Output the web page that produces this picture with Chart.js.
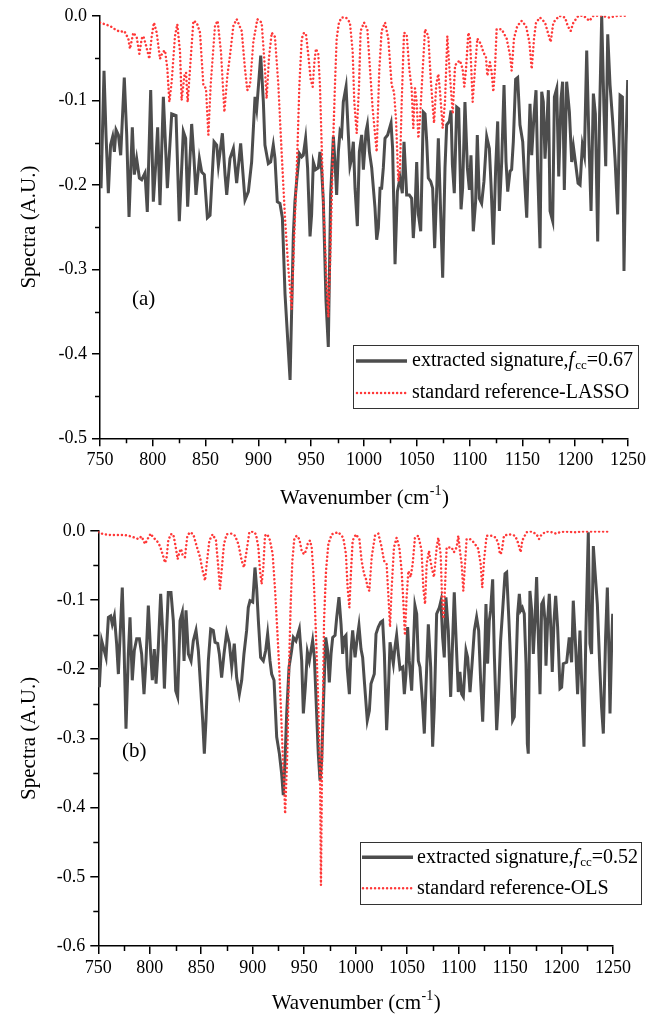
<!DOCTYPE html>
<html>
<head>
<meta charset="utf-8">
<script src="https://cdn.jsdelivr.net/npm/chart.js@4.4.1/dist/chart.umd.min.js"></script>
<style>
html,body{margin:0;padding:0;background:#fff;}
body{width:667px;height:1019px;position:relative;overflow:hidden;}
canvas{position:absolute;left:0;}
#chartA{top:0;}
#chartB{top:515px;}
</style>
</head>
<body>
<canvas id="chartA" width="667" height="515"></canvas>
<canvas id="chartB" width="667" height="504"></canvas>
<script>
// ---------------- DATA ----------------
const xTickLabels = [750, 800, 850, 900, 950, 1000, 1050, 1100, 1150, 1200, 1250];
const yTickLabelsA = [0.0, -0.1, -0.2, -0.3, -0.4, -0.5];
const yTickLabelsB = [0.0, -0.1, -0.2, -0.3, -0.4, -0.5, -0.6];

// Panel (a): extracted signature
const wnSignatureA = [
750,751,753.8,755.7,757.9,760,762,763.6,765.2,767.4,
769.6,773,775.3,777.5,780.6,782.5,784.7,787.3,789.5,792.6,
794.8,798,800.5,802.7,804.6,806.8,810,813.8,817.9,822,
825.1,828.9,831.1,833,836.8,839,840.9,844.1,846.3,848.8,
851.7,854.2,858,860.5,862.1,865.9,868.4,870,873.1,876.3,
879.4,883.2,887.3,890.5,893.6,896.8,898.4,902.2,904.7,906.2,
909.4,911.6,914.1,915.7,917.9,920.4,922.7,925.2,930,933.1,
934.6,936.2,938.8,941,942.5,944.7,946.6,948.9,950.4,952,
954.2,956.7,958.3,959.9,961.5,964,966.2,968.4,971,972.5,
974.1,975.7,977.3,978.8,980.4,983,985.2,986.7,988.3,989.9,
991.5,993.7,995.6,997.8,999.4,1001.9,1003.2,1005.1,1007.3,1010.4,
1012,1013.6,1015.2,1016.7,1018.3,1019.9,1022.4,1025.6,1027.1,1029.4,
1031.6,1034.1,1036.3,1037.9,1040.4,1042.9,1045.1,1046.7,1048.3,1049.9,
1051.5,1053.7,1056.2,1057.8,1059.4,1060.9,1063.1,1065,1066.9,1068.8,
1070.4,1074.5,1076.7,1078.3,1080.8,1082.4,1083.7,1085.5,1087.8,1089.7,
1091.9,1093.4,1095.6,1097.9,1099.8,1101.3,1103.5,1105.7,1107.3,1109.2,
1111.4,1113.6,1116.2,1118.7,1120.3,1122.5,1124.7,1126.6,1128.2,1130.4,
1132.6,1134.5,1136.1,1138.3,1139.8,1141.4,1143.6,1145.5,1147.7,1150.3,
1152.5,1154.1,1155.6,1157.2,1158.8,1161,1162.9,1164.5,1166.7,1168.3,
1169.8,1171.4,1173,1174.6,1176.2,1178.7,1180.3,1182.5,1184.4,1186.6,
1188.1,1189.7,1191.9,1194.5,1196.7,1198.3,1200.5,1202.7,1204.6,1206.8,
1208.7,1210.9,1213.1,1215,1217.2,1219.1,1221.3,1222.9,1225.1,1227.3,
1228.9,1230.8,1233,1235.5,1237.7,1240.2,1242.5,1244.7,1246.2,1248.1,1249.7
];
const specSignatureA = [
-0.165,-0.204,-0.065,-0.141,-0.210,-0.153,-0.143,-0.161,-0.135,-0.141,
-0.165,-0.073,-0.141,-0.238,-0.132,-0.188,-0.169,-0.192,-0.194,-0.186,
-0.232,-0.088,-0.220,-0.177,-0.132,-0.224,-0.096,-0.204,-0.116,-0.118,
-0.243,-0.137,-0.145,-0.226,-0.128,-0.169,-0.212,-0.169,-0.185,-0.188,
-0.239,-0.236,-0.149,-0.153,-0.177,-0.139,-0.188,-0.212,-0.169,-0.157,
-0.198,-0.151,-0.218,-0.208,-0.173,-0.096,-0.110,-0.047,-0.102,-0.153,
-0.175,-0.173,-0.153,-0.169,-0.220,-0.222,-0.239,-0.329,-0.431,-0.259,
-0.220,-0.196,-0.163,-0.167,-0.165,-0.145,-0.180,-0.261,-0.235,-0.173,
-0.182,-0.180,-0.161,-0.182,-0.220,-0.337,-0.392,-0.212,-0.143,-0.173,
-0.212,-0.161,-0.137,-0.141,-0.102,-0.084,-0.141,-0.178,-0.169,-0.149,
-0.204,-0.249,-0.161,-0.141,-0.182,-0.137,-0.129,-0.161,-0.180,-0.227,
-0.265,-0.251,-0.204,-0.204,-0.180,-0.145,-0.141,-0.127,-0.157,-0.294,
-0.208,-0.192,-0.210,-0.149,-0.212,-0.212,-0.216,-0.263,-0.231,-0.173,
-0.235,-0.255,-0.114,-0.116,-0.149,-0.192,-0.196,-0.204,-0.275,-0.208,
-0.145,-0.310,-0.180,-0.129,-0.125,-0.112,-0.176,-0.210,-0.108,-0.110,
-0.229,-0.204,-0.102,-0.180,-0.206,-0.165,-0.255,-0.220,-0.141,-0.216,
-0.222,-0.196,-0.143,-0.157,-0.200,-0.271,-0.180,-0.125,-0.231,-0.173,
-0.082,-0.173,-0.208,-0.184,-0.182,-0.149,-0.075,-0.073,-0.129,-0.149,
-0.204,-0.239,-0.169,-0.104,-0.165,-0.118,-0.088,-0.184,-0.275,-0.090,
-0.102,-0.169,-0.133,-0.088,-0.231,-0.243,-0.096,-0.086,-0.190,-0.098,
-0.078,-0.206,-0.078,-0.114,-0.173,-0.155,-0.176,-0.198,-0.200,-0.153,
-0.165,-0.041,-0.153,-0.231,-0.092,-0.116,-0.267,-0.129,0.000,-0.114,
-0.178,-0.022,-0.082,-0.125,-0.169,-0.235,-0.094,-0.096,-0.302,-0.153,-0.076
];

// Panel (a): standard reference - LASSO
const wnReferenceA = [
750,754.7,759.5,764.2,769,773,776.8,778.4,781.6,784.7,
787.3,789.5,791,793.6,796.7,799,801.1,803.7,806.8,809.4,
811.6,813.8,815.7,817.9,821,823.2,825.8,827.3,829.9,831.5,
833,835.2,838.4,841.6,844.7,847.9,850.4,852.6,854.8,858.9,
861.4,864.6,867.8,870.6,873.1,876.3,879.4,884.2,887.3,889.5,
892.1,895.2,899,903.1,906.2,907.8,910,912.6,915.7,918.9,
922,925.2,928.3,931.5,934.6,936.9,938.8,941,943.2,945.1,
947.3,949.5,951.4,953,954.5,956.7,958.3,959.9,961.5,964,
966.2,967.8,969.4,971,972.5,974.1,976.3,978.8,983,986.7,
989.3,990.8,993.1,995.3,996.8,1000,1003.2,1005.7,1008.2,1012,
1014.5,1016.7,1019.9,1023,1026.2,1028.4,1030.3,1032.5,1034.1,1035.7,
1037.9,1040.4,1042.9,1045.1,1046.7,1048.3,1049.9,1051.5,1053,1055.6,
1057.8,1060.9,1063.5,1066.3,1068.5,1070.4,1072,1074.5,1076.7,1078.9,
1081.4,1084,1086.2,1088.4,1090.9,1093.4,1095,1096.6,1098.8,1100.4,
1102.9,1105.1,1107.3,1110.5,1113,1115.5,1116.8,1119.3,1120.9,1122.5,
1124,1125.6,1130.4,1135.1,1138.3,1139.8,1142,1145.2,1149.3,1153.4,
1156.6,1158.8,1161,1162.9,1166.7,1171.4,1174.6,1176.8,1179.3,1185,
1190.4,1192.9,1195.7,1198.3,1203,1208,1213.4,1217.2,1225,1232,1240,1249
];
const specReferenceA = [
-0.008,-0.010,-0.012,-0.016,-0.019,-0.018,-0.027,-0.039,-0.020,-0.025,
-0.045,-0.027,-0.024,-0.035,-0.051,-0.024,-0.008,-0.020,-0.051,-0.043,
-0.041,-0.063,-0.102,-0.078,-0.024,-0.010,-0.043,-0.100,-0.071,-0.067,
-0.102,-0.063,-0.006,-0.008,-0.020,-0.082,-0.086,-0.141,-0.082,-0.012,
-0.006,-0.043,-0.114,-0.071,-0.047,-0.012,-0.004,-0.018,-0.063,-0.088,
-0.082,-0.031,-0.004,-0.008,-0.063,-0.098,-0.050,-0.020,-0.025,-0.082,
-0.161,-0.239,-0.298,-0.347,-0.239,-0.161,-0.082,-0.027,-0.020,-0.022,
-0.047,-0.075,-0.084,-0.055,-0.039,-0.045,-0.082,-0.153,-0.220,-0.298,
-0.357,-0.298,-0.220,-0.141,-0.082,-0.027,-0.008,-0.002,-0.002,-0.008,
-0.043,-0.102,-0.139,-0.082,-0.018,-0.008,-0.016,-0.063,-0.110,-0.161,
-0.063,-0.018,-0.008,-0.027,-0.082,-0.090,-0.122,-0.196,-0.180,-0.102,
-0.020,-0.022,-0.063,-0.086,-0.133,-0.086,-0.102,-0.145,-0.122,-0.063,
-0.016,-0.024,-0.080,-0.127,-0.080,-0.069,-0.090,-0.133,-0.102,-0.024,
-0.071,-0.116,-0.059,-0.055,-0.053,-0.063,-0.084,-0.063,-0.020,-0.027,
-0.102,-0.063,-0.027,-0.033,-0.043,-0.049,-0.071,-0.055,-0.067,-0.090,
-0.063,-0.016,-0.016,-0.027,-0.047,-0.065,-0.027,-0.012,-0.006,-0.012,
-0.031,-0.063,-0.027,-0.008,-0.002,-0.008,-0.022,-0.031,-0.008,0.000,
-0.002,-0.012,-0.018,-0.008,0.000,0.000,-0.006,0.000,0.000,-0.002,0.000,0.000
];

// Panel (b): extracted signature
const wnSignatureB = [
750,751,753.3,757.5,759.8,762,763.6,765.6,767.8,769.5,
773.3,775,776.9,779.2,780.8,783,785,787.3,789.9,792.1,
794.4,796.3,798.6,800.9,802.5,804.4,806.1,808.3,810.6,812.5,
814.2,816.4,818,820.6,822.9,825.2,827.1,829.4,831.6,833.3,
835.2,837.5,840.1,842.3,844.9,847.2,849.4,851.4,853,854.6,
856.9,859.2,861.7,863.4,866,867.6,869.8,872.1,874.7,877.3,
879.6,882.1,884.4,887,889.3,891.5,894.1,895.7,897.4,900,
902.2,903.8,905.5,907.7,910.3,912.6,914.5,916.8,918.4,920.7,
923.3,925.9,928.1,929.7,931.4,933,935.3,937.8,939.5,942,
945.3,947.6,949.2,951.1,953.1,955,958.2,959.9,962.1,963.7,
965.4,967,968.6,970.9,972.8,974.4,976.1,977.7,980,981.6,
983.8,985.8,987.4,989,990.6,991.9,993.9,995.5,997.1,999.4,
1001.6,1003.2,1005.2,1006.8,1008.4,1010.1,1011.3,1013.3,1014.9,1016.5,
1018.1,1019.8,1022,1024.3,1026.2,1027.9,1030.1,1031.7,1033.4,1036.6,
1038.2,1039.8,1041.5,1043.1,1045.7,1047.3,1048.9,1050.5,1052.1,1054.4,
1056,1057.6,1059.3,1060.9,1062.5,1064.8,1066.7,1068.3,1070.6,1072.9,
1074.8,1076.4,1078.7,1081.3,1082.9,1084.5,1086.1,1087.7,1090,1092.3,
1094.2,1095.8,1097.5,1099.7,1101.3,1103,1104.6,1107.2,1108.8,1111.1,
1113.3,1115.3,1117.5,1119.5,1121.4,1123.4,1125,1126.6,1128.2,1129.8,
1131.1,1133.1,1134.7,1137,1138.6,1140.8,1142.8,1145.1,1146.7,1148.9,
1150.9,1152.5,1154.1,1155.7,1157.4,1159,1160.3,1161.9,1163.8,1165.5,
1166.8,1167.7,1169.3,1171,1172.6,1174.2,1175.8,1177.4,1179.1,1180.7,
1182.3,1183.9,1184.9,1186.5,1188.1,1189.7,1191,1192.7,1194.3,1196.2,
1198.5,1200.1,1201.7,1205,1207.5,1209.8,1211.4,1213.7,1215.6,1217.9,
1219.5,1221.8,1223.7,1226,1227.6,1229.2,1230.9,1232.5,1234.8,1237.3,
1238.9,1240.6,1242.8,1244.5,1246.1,1247.1,1248.7,1249.7
];
const specSignatureB = [
-0.197,-0.226,-0.159,-0.183,-0.125,-0.123,-0.135,-0.123,-0.163,-0.207,
-0.082,-0.168,-0.286,-0.178,-0.125,-0.216,-0.173,-0.156,-0.156,-0.178,
-0.236,-0.188,-0.108,-0.178,-0.216,-0.171,-0.221,-0.168,-0.091,-0.144,
-0.228,-0.144,-0.089,-0.089,-0.130,-0.231,-0.240,-0.130,-0.118,-0.188,
-0.115,-0.178,-0.188,-0.159,-0.144,-0.173,-0.226,-0.274,-0.322,-0.274,
-0.188,-0.142,-0.144,-0.161,-0.163,-0.178,-0.212,-0.178,-0.147,-0.163,
-0.197,-0.163,-0.212,-0.236,-0.216,-0.178,-0.144,-0.111,-0.101,-0.103,
-0.053,-0.082,-0.130,-0.183,-0.188,-0.173,-0.149,-0.188,-0.207,-0.216,
-0.298,-0.322,-0.351,-0.382,-0.332,-0.264,-0.197,-0.173,-0.154,-0.159,
-0.142,-0.188,-0.264,-0.226,-0.175,-0.188,-0.159,-0.183,-0.264,-0.322,
-0.361,-0.332,-0.255,-0.154,-0.173,-0.219,-0.178,-0.154,-0.151,-0.125,
-0.096,-0.135,-0.178,-0.154,-0.151,-0.200,-0.236,-0.173,-0.144,-0.183,
-0.154,-0.137,-0.171,-0.183,-0.216,-0.250,-0.274,-0.260,-0.221,-0.214,
-0.207,-0.149,-0.139,-0.132,-0.130,-0.178,-0.288,-0.236,-0.161,-0.192,
-0.168,-0.151,-0.178,-0.200,-0.197,-0.236,-0.207,-0.139,-0.188,-0.231,
-0.173,-0.108,-0.120,-0.188,-0.197,-0.245,-0.293,-0.226,-0.135,-0.197,
-0.312,-0.255,-0.120,-0.111,-0.101,-0.154,-0.183,-0.096,-0.144,-0.240,
-0.159,-0.089,-0.154,-0.233,-0.204,-0.236,-0.240,-0.173,-0.183,-0.233,
-0.188,-0.144,-0.125,-0.144,-0.216,-0.276,-0.202,-0.106,-0.192,-0.130,
-0.115,-0.070,-0.178,-0.288,-0.245,-0.159,-0.115,-0.062,-0.060,-0.130,
-0.202,-0.274,-0.269,-0.202,-0.120,-0.091,-0.115,-0.111,-0.120,-0.192,
-0.308,-0.322,-0.087,-0.115,-0.178,-0.130,-0.067,-0.149,-0.236,-0.106,
-0.101,-0.130,-0.195,-0.130,-0.091,-0.144,-0.204,-0.130,-0.094,-0.139,
-0.228,-0.226,-0.192,-0.190,-0.154,-0.190,-0.101,-0.168,-0.236,-0.144,
-0.216,-0.312,-0.144,-0.002,-0.163,-0.178,-0.022,-0.058,-0.106,-0.202,
-0.255,-0.293,-0.154,-0.082,-0.178,-0.264,-0.163,-0.120
];

// Panel (b): standard reference - OLS
const wnReferenceB = [
750,754.9,761.4,767.8,774.3,779.2,785.7,788.9,792,795.4,
798.6,800.9,803.5,806.7,809.9,812.5,814.8,816.4,818,820.3,
822.9,825.5,827.1,828.7,830.4,832,834.2,836.5,839.1,842.3,
845.5,848.8,851.4,853.7,855.3,857.9,861.1,864.3,866.6,868.2,
869.8,872.1,874.7,879.6,882.8,886,889.3,891.5,894.1,896.7,
900.6,903.2,905.5,907.1,908.7,910.3,911.9,914.2,916.8,919.4,
921.6,923.9,925.9,927.5,929.1,930.7,931.5,933.6,935.6,936.9,
938.5,940.4,942.7,945.3,947.6,949.8,951.7,953.4,955.6,957.3,
958.9,960.5,962.1,963.7,965.4,966.3,967.3,968.2,969.3,971.2,
973.5,976.7,983.2,988,990.6,992.2,993.9,995.5,997.1,1000.3,
1003.6,1005.8,1008.1,1010.1,1011.7,1013.3,1015.6,1018.8,1022,1025.3,
1027.5,1030.1,1031.7,1033.4,1035,1037.2,1039.8,1042.4,1044.7,1046.3,
1047.9,1049.5,1051.2,1053.4,1055.4,1057.6,1060.9,1064.1,1065.7,1067.4,
1069,1071.2,1073.8,1076.1,1078.7,1080.3,1082.6,1083.9,1085.2,1086.8,
1088.4,1090.7,1093.2,1095.5,1098.1,1099.7,1101.3,1103,1104.6,1106.2,
1107.8,1111.1,1114.9,1119.1,1121.4,1123,1124.7,1127.2,1132.1,1136.3,
1138.6,1140.2,1141.8,1144.1,1149.3,1154.8,1157,1159,1160.3,1161.9,
1166.1,1171,1175.8,1178.1,1180.7,1185.5,1190.4,1194.6,1198.5,1203.3,1213.7,1219.5,1247
];
const specReferenceB = [
-0.002,-0.005,-0.006,-0.006,-0.006,-0.007,-0.010,-0.012,-0.008,-0.019,
-0.010,-0.004,-0.010,-0.014,-0.022,-0.034,-0.046,-0.038,-0.014,-0.005,
-0.005,-0.026,-0.041,-0.031,-0.026,-0.036,-0.038,-0.007,-0.002,-0.005,
-0.022,-0.038,-0.058,-0.072,-0.048,-0.014,-0.005,-0.014,-0.053,-0.084,
-0.058,-0.019,-0.005,-0.004,-0.007,-0.019,-0.043,-0.053,-0.029,-0.002,
-0.001,-0.005,-0.024,-0.058,-0.077,-0.053,-0.007,-0.005,-0.014,-0.034,
-0.082,-0.144,-0.202,-0.260,-0.322,-0.370,-0.409,-0.322,-0.178,-0.106,
-0.043,-0.012,-0.007,-0.012,-0.029,-0.034,-0.029,-0.019,-0.014,-0.024,
-0.058,-0.111,-0.178,-0.250,-0.350,-0.512,-0.350,-0.250,-0.130,-0.058,
-0.019,-0.005,-0.002,-0.010,-0.034,-0.082,-0.111,-0.058,-0.014,-0.005,
-0.012,-0.043,-0.062,-0.070,-0.082,-0.087,-0.038,-0.007,-0.004,-0.024,
-0.043,-0.048,-0.091,-0.139,-0.082,-0.024,-0.010,-0.024,-0.058,-0.101,
-0.151,-0.096,-0.058,-0.067,-0.048,-0.010,-0.007,-0.029,-0.082,-0.106,
-0.048,-0.029,-0.053,-0.067,-0.024,-0.010,-0.034,-0.096,-0.127,-0.082,
-0.024,-0.024,-0.024,-0.031,-0.024,-0.007,-0.029,-0.048,-0.087,-0.048,
-0.012,-0.012,-0.017,-0.026,-0.048,-0.082,-0.043,-0.007,-0.007,-0.010,
-0.019,-0.034,-0.031,-0.007,-0.005,-0.007,-0.014,-0.024,-0.031,-0.014,
-0.002,-0.001,-0.005,-0.012,-0.005,-0.001,-0.002,-0.004,-0.002,-0.001,-0.002,-0.001,-0.001
];

const seriesNames = ['extracted signature', 'standard reference'];
const fccValues = ['0.67', '0.52'];
const methodNames = ['LASSO', 'OLS'];
const panelLabels = ['(a)', '(b)'];

// ---------------- STYLE / RENDER ----------------
const FONT = '"Liberation Serif", "Times New Roman", serif';
const SIG_COLOR = '#4d4d4d';
const REF_COLOR = '#ff3838';

function pts(xs, ys) { return xs.map((x, i) => ({ x: x, y: ys[i] })); }
function fmtY(v) { return Math.abs(v) < 1e-9 ? '0.0' : Number(v).toFixed(1); }

const decor = {
  id: 'decor',
  afterDraw(chart, args, o) {
    const ctx = chart.ctx, a = chart.chartArea, x = chart.scales.x, y = chart.scales.y;
    ctx.save();
    // minor ticks
    ctx.strokeStyle = '#000';
    ctx.lineWidth = 1.5;
    ctx.beginPath();
    for (let i = 0; i < xTickLabels.length - 1; i++) {
      const v = (xTickLabels[i] + xTickLabels[i + 1]) / 2;
      const px = Math.round(x.getPixelForValue(v)) + 0.5;
      ctx.moveTo(px, a.bottom); ctx.lineTo(px, a.bottom + 5);
    }
    const yt = o.yTicks;
    for (let i = 0; i < yt.length - 1; i++) {
      const v = (yt[i] + yt[i + 1]) / 2;
      const py = Math.round(y.getPixelForValue(v)) + 0.5;
      ctx.moveTo(a.left, py); ctx.lineTo(a.left - 5, py);
    }
    ctx.stroke();

    // x-axis title with superscript
    ctx.fillStyle = '#000';
    ctx.textBaseline = 'middle';
    ctx.textAlign = 'left';
    const f1 = '21px ' + FONT, f2 = '14px ' + FONT;
    ctx.font = f1;
    const t1 = 'Wavenumber (cm', t3 = ')';
    const w1 = ctx.measureText(t1).width, w3 = ctx.measureText(t3).width;
    ctx.font = f2;
    const t2 = '-1';
    const w2 = ctx.measureText(t2).width;
    let tx = (a.left + a.right) / 2 - (w1 + w2 + w3) / 2;
    ctx.font = f1; ctx.fillText(t1, tx, o.xTitleY); tx += w1;
    ctx.font = f2; ctx.fillText(t2, tx + 0.5, o.xTitleY - 7); tx += w2 + 1;
    ctx.font = f1; ctx.fillText(t3, tx, o.xTitleY);

    // panel label
    ctx.font = '21px ' + FONT;
    ctx.fillText(o.panelLabel, o.panelX, o.panelY);

    // legend
    const L = o.legend;
    ctx.fillStyle = '#fff';
    ctx.fillRect(L.x, L.y, L.w, L.h);
    ctx.strokeStyle = '#333';
    ctx.lineWidth = 1;
    ctx.strokeRect(L.x + 0.5, L.y + 0.5, L.w, L.h);
    // row 1 sample (solid)
    ctx.beginPath();
    ctx.strokeStyle = SIG_COLOR; ctx.lineWidth = 3.5; ctx.lineCap = 'butt';
    ctx.moveTo(L.sx1, L.r1); ctx.lineTo(L.sx2, L.r1); ctx.stroke();
    // row 2 sample (dotted)
    ctx.beginPath();
    ctx.strokeStyle = REF_COLOR; ctx.lineWidth = 2.5; ctx.lineCap = 'round';
    ctx.setLineDash([0.01, 4]);
    ctx.moveTo(L.sx1 + 1, L.r2); ctx.lineTo(L.sx2, L.r2); ctx.stroke();
    ctx.setLineDash([]);
    // row 1 text
    ctx.fillStyle = '#000';
    const fN = '20px ' + FONT, fI = 'italic 20px ' + FONT, fS = '13px ' + FONT;
    let lx = L.tx;
    const parts = [
      [seriesNames[0] + ',', fN, 0],
      ['f', fI, 0],
      ['cc', fS, 5],
      ['=' + o.fcc, fN, 0]
    ];
    for (const p of parts) {
      ctx.font = p[1];
      ctx.fillText(p[0], lx, L.r1 + p[2]);
      lx += ctx.measureText(p[0]).width + (p[0] === 'f' ? 1 : 0);
    }
    ctx.font = fN;
    ctx.fillText(seriesNames[1] + '-' + o.method, L.tx, L.r2);
    ctx.restore();
  }
};

function makeChart(id, c) {
  return new Chart(document.getElementById(id), {
    type: 'scatter',
    data: {
      datasets: [
        { label: seriesNames[0], data: pts(c.wnSig, c.sig), showLine: true, borderColor: SIG_COLOR,
          borderWidth: 3, pointRadius: 0, tension: 0, order: 2 },
        { label: seriesNames[1], data: pts(c.wnRef, c.ref), showLine: true, borderColor: REF_COLOR,
          borderWidth: 2.5, borderDash: [0.01, 4], borderCapStyle: 'round', pointRadius: 0, tension: 0, order: 1 }
      ]
    },
    options: {
      responsive: false,
      animation: false,
      events: [],
      layout: { padding: { left: 0, top: c.padTop, right: c.padRight, bottom: 0 } },
      scales: {
        x: {
          type: 'linear', min: xTickLabels[0], max: xTickLabels[xTickLabels.length - 1],
          afterBuildTicks: s => { s.ticks = xTickLabels.map(v => ({ value: v })); },
          ticks: { color: '#000', font: { family: FONT, size: 18 }, padding: 3, maxRotation: 0, autoSkip: false,
                   callback: v => String(v) },
          grid: { display: true, drawOnChartArea: false, drawTicks: true, tickLength: 8, tickWidth: 1.5,
                  tickColor: '#000', color: '#000', lineWidth: 1.5 },
          border: { display: true, color: '#000', width: 1.5 },
          title: { display: false },
          afterFit: s => { s.height = c.xAxisHeight; }
        },
        y: {
          type: 'linear', min: c.yTicks[c.yTicks.length - 1], max: c.yTicks[0],
          afterBuildTicks: s => { s.ticks = c.yTicks.map(v => ({ value: v })); },
          ticks: { color: '#000', font: { family: FONT, size: 18 }, padding: 5, callback: v => fmtY(v) },
          grid: { display: true, drawOnChartArea: false, drawTicks: true, tickLength: 8, tickWidth: 1.5,
                  tickColor: '#000', color: '#000', lineWidth: 1.5 },
          border: { display: true, color: '#000', width: 1.5 },
          title: { display: true, text: 'Spectra (A.U.)', color: '#000', font: { family: FONT, size: 21 },
                   padding: { top: 17, bottom: 0 } },
          afterFit: s => { s.width = c.yAxisWidth; }
        }
      },
      plugins: {
        legend: { display: false },
        tooltip: { enabled: false },
        decor: {
          yTicks: c.yTicks, xTitleY: c.xTitleY, panelLabel: c.panelLabel, panelX: c.panelX, panelY: c.panelY,
          fcc: c.fcc, method: c.method, legend: c.legend
        }
      }
    },
    plugins: [decor]
  });
}

makeChart('chartA', {
  wnSig: wnSignatureA, sig: specSignatureA, wnRef: wnReferenceA, ref: specReferenceA,
  yTicks: yTickLabelsA, padTop: 13.3, padRight: 39, yAxisWidth: 100, xAxisHeight: 76.7,
  xTitleY: 498, panelLabel: panelLabels[0], panelX: 132, panelY: 299,
  fcc: fccValues[0], method: methodNames[0],
  legend: { x: 353, y: 345, w: 285, h: 63, r1: 361, r2: 393, sx1: 356, sx2: 407, tx: 412 }
});

makeChart('chartB', {
  wnSig: wnSignatureB, sig: specSignatureB, wnRef: wnReferenceB, ref: specReferenceB,
  yTicks: yTickLabelsB, padTop: 15, padRight: 54, yAxisWidth: 98.3, xAxisHeight: 73,
  xTitleY: 488, panelLabel: panelLabels[1], panelX: 122, panelY: 236,
  fcc: fccValues[1], method: methodNames[1],
  legend: { x: 360, y: 327, w: 281, h: 62, r1: 342.3, r2: 373.3, sx1: 362, sx2: 413, tx: 417 }
});
</script>
</body>
</html>
